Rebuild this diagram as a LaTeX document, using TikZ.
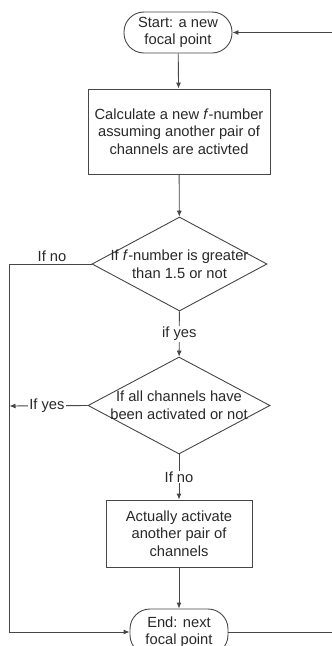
\documentclass[tikz,border=0pt]{standalone}
\usepackage{fontspec}
\setmainfont{Liberation Sans}
\usetikzlibrary{shapes.geometric,arrows.meta}
\definecolor{linec}{RGB}{70,70,70}
\definecolor{textc}{RGB}{40,40,40}
\begin{document}
\begin{tikzpicture}[x=1pt,y=-1pt,
  every node/.style={font=\fontsize{14.7}{17.6}\selectfont, text=textc},
  term/.style={draw=linec, line width=0.9pt, rectangle, rounded corners=20pt, align=center, inner sep=0pt},
  procbox/.style={draw=linec, line width=0.9pt, rectangle, align=center, inner sep=0pt},
  dia/.style={draw=linec, line width=0.9pt, diamond, inner sep=0pt},
  txt/.style={align=center, inner sep=0pt},
  lbl/.style={fill=white, inner sep=1pt},
  conn/.style={draw=linec, line width=0.9pt},
  arr/.style={conn, -{Latex[length=6pt,width=5pt]}}]
\useasboundingbox (0,0) rectangle (332,646);
\clip (0,0) rectangle (332,646);
\node[term, minimum width=108pt, minimum height=41pt] (start) at (178,32.5) {Start: a new\\focal point};
\node[procbox, minimum width=182pt, minimum height=85pt] (calc) at (179,131.5) {Calculate a new \textit{f}-number\\assuming another pair of\\channels are activted};
\node[dia, minimum width=175pt, minimum height=94pt] (d1) at (179.5,264) {};
\node[txt] (d1t) at (d1.center) {If \textit{f}-number is greater\\than 1.5 or not};
\node[dia, minimum width=182pt, minimum height=97pt] (d2) at (179,405.5) {};
\node[txt] (d2t) at (d2.center) {If all channels have\\been activated or not};
\node[procbox, minimum width=146pt, minimum height=67pt] (act) at (179,533.5) {Actually activate\\another pair of\\channels};
\node[term, minimum width=98pt, minimum height=46pt] (end) at (179,632) {End: next\\focal point};
\coordinate (lx1) at (9.5,264);
\coordinate (lx2) at (9.5,406);
\coordinate (rx) at (345,632);
\coordinate (rx2) at (345,32.5);
\node[inner sep=0pt] (ifno1) at (52,256) {If no};
% connectors
\draw[arr] (start) -- (calc);
\draw[arr] (calc) -- (d1);
\draw[arr] (d1) -- node[lbl] (ify1) {if yes} (d2);
\draw[arr] (d2) -- node[lbl] (ifn2) {If no} (act);
\draw[arr] (act) -- (end);
\draw[arr] (d1.west) -- (lx1) |- (end.west);
\draw[arr] (d2.west) -- node[lbl, pos=0.52] (ify2) {If yes} (lx2);
\draw[arr] (end.east) -- (rx) -- (rx2) -- (start.east);
\end{tikzpicture}
\end{document}
